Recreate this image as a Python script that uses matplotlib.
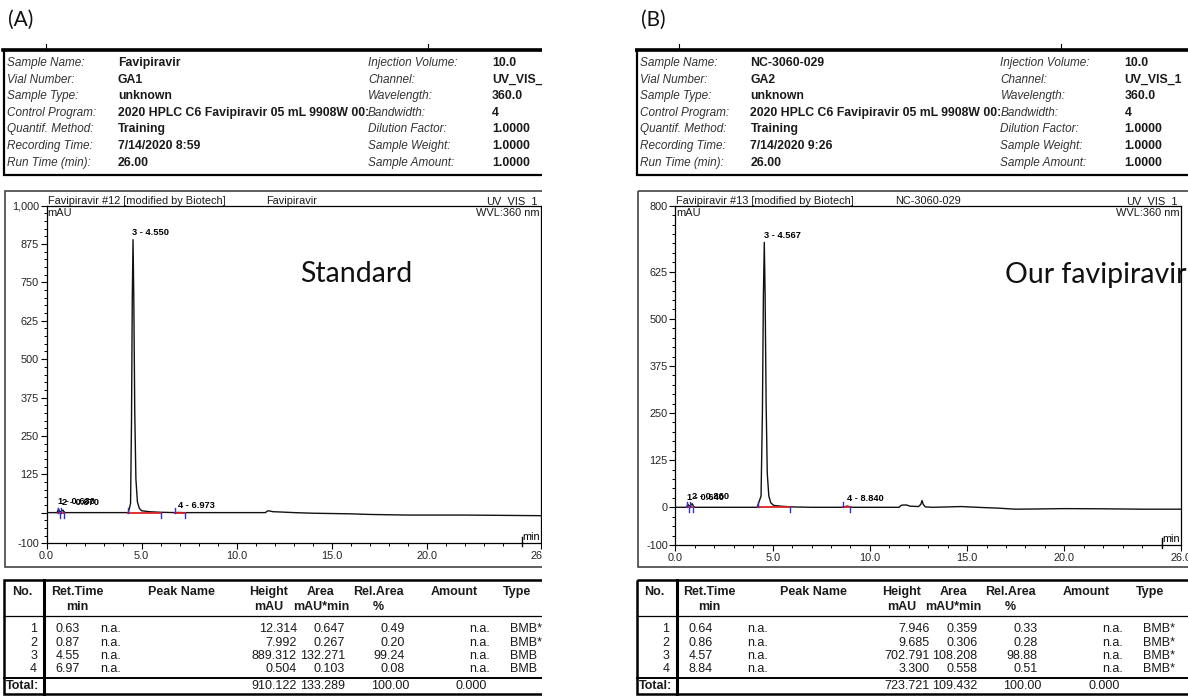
"""
HPLC report comparison — favipiravir standard (A) vs our favipiravir (B)
"""

import matplotlib
matplotlib.use("Agg")
import matplotlib.pyplot as plt
from matplotlib.patches import Rectangle
from matplotlib.ticker import MultipleLocator

W, H = 1188, 696
REPORT_FONT = "Liberation Sans"
NOTE_FONT = "Lato"

# ── Data ───────────────────────────────────────────────────────────────────
PANEL_TAGS = ["(A)", "(B)"]
SAMPLE_NOTES = ["Standard", "Our favipiravir"]

INFO_LABELS = ["Sample Name:", "Vial Number:", "Sample Type:", "Control Program:",
               "Quantif. Method:", "Recording Time:", "Run Time (min):"]
INSTR_LABELS = ["Injection Volume:", "Channel:", "Wavelength:", "Bandwidth:",
                "Dilution Factor:", "Sample Weight:", "Sample Amount:"]
INSTR_VALUES = ["10.0", "UV_VIS_1", "360.0", "4", "1.0000", "1.0000", "1.0000"]
STD_INFO = ["Favipiravir", "GA1", "unknown", "2020 HPLC C6 Favipiravir 05 mL 9908W 00:",
            "Training", "7/14/2020 8:59", "26.00"]
OUR_INFO = ["NC-3060-029", "GA2", "unknown", "2020 HPLC C6 Favipiravir 05 mL 9908W 00:",
            "Training", "7/14/2020 9:26", "26.00"]

STD_TITLE = ["Favipiravir #12 [modified by Biotech]", "Favipiravir"]
OUR_TITLE = ["Favipiravir #13 [modified by Biotech]", "NC-3060-029"]

# chromatogram traces (min, mAU)
STD_TIME = [0.0, 0.55, 0.60, 0.63, 0.68, 0.76, 0.87, 0.93, 1.0, 3.0, 4.30, 4.42, 4.47,
            4.51, 4.55, 4.59, 4.64, 4.70, 4.78, 4.88, 5.0, 5.4, 6.0, 6.8, 6.97, 7.2,
            8.0, 10.0, 11.5, 11.65, 11.75, 11.9, 12.3, 13.0, 14.0, 15.0, 16.0, 17.0,
            18.0, 19.0, 20.0, 22.0, 24.0, 26.0]
STD_SIGNAL = [0, 0, 6, 12.3, 4, 3, 8, 2, 0, 0, 0, 30, 300,
              700, 889.3, 700, 330, 110, 35, 14, 6, 3, 1, 0, 0.5, 0,
              0, 0, 0, 6, 5, 3, 2, 0, -2, -3, -4, -6,
              -7, -8, -8, -8, -9, -10]
OUR_TIME = [0.0, 0.55, 0.60, 0.64, 0.70, 0.78, 0.86, 0.92, 1.0, 3.0, 4.20, 4.40, 4.47,
            4.52, 4.567, 4.61, 4.66, 4.72, 4.80, 4.90, 5.05, 5.4, 6.0, 7.0, 8.6, 8.75,
            8.84, 8.95, 9.1, 10.0, 11.5, 11.6, 11.7, 11.9, 12.05, 12.5, 12.62, 12.68,
            12.74, 12.85, 13.2, 14.0, 14.7, 15.5, 16.5, 17.5, 18.5, 20.0, 22.0, 24.0, 26.0]
OUR_SIGNAL = [0, 0, 4, 7.9, 3, 5, 9.7, 3, 0, 0, 0, 30, 250,
              560, 702.8, 560, 280, 90, 30, 12, 5, 3, 1, 0, 0, 2,
              3.3, 1.5, 0, 0, 0, 5, 6, 6, 3, 2, 8, 18,
              8, 1, 0, 1, 2, 0, -2, -5, -4.5, -3.5, -4, -5, -5]

STD_YLIM = (-100, 1000)
STD_YTICKS = [-100, 0, 125, 250, 375, 500, 625, 750, 875, 1000]
STD_YLABELS = ["-100", "", "125", "250", "375", "500", "625", "750", "875", "1,000"]
OUR_YLIM = (-100, 800)
OUR_YTICKS = [-100, 0, 125, 250, 375, 500, 625, 800]
OUR_YLABELS = ["-100", "0", "125", "250", "375", "500", "625", "800"]
XTICKS = [0, 5, 10, 15, 20, 26]
XLABELS = ["0.0", "5.0", "10.0", "15.0", "20.0", "26.0"]

# peak tables
TABLE_HEAD = ["No.", "Ret.Time", "Peak Name", "Height", "Area", "Rel.Area", "Amount", "Type"]
TABLE_UNITS = ["", "min", "", "mAU", "mAU*min", "%", "", ""]
PEAK_NO = [1, 2, 3, 4]

STD_RT = [0.630, 0.870, 4.550, 6.973]
STD_HEIGHT = [12.314, 7.992, 889.312, 0.504]
STD_AREA = [0.647, 0.267, 132.271, 0.103]
STD_REL = [0.49, 0.20, 99.24, 0.08]
STD_TYPE = ["BMB*", "BMB*", "BMB", "BMB"]
STD_TOTAL = ["910.122", "133.289", "100.00", "0.000"]
STD_START = [0.60, 0.74, 4.30, 6.75]
STD_END = [0.72, 0.90, 6.00, 7.28]

OUR_RT = [0.640, 0.860, 4.567, 8.840]
OUR_HEIGHT = [7.946, 9.685, 702.791, 3.300]
OUR_AREA = [0.359, 0.306, 108.208, 0.558]
OUR_REL = [0.33, 0.28, 98.88, 0.51]
OUR_TYPE = ["BMB*", "BMB*", "BMB*", "BMB*"]
OUR_TOTAL = ["723.721", "109.432", "100.00", "0.000"]
OUR_START = [0.58, 0.76, 4.25, 8.62]
OUR_END = [0.72, 0.92, 5.90, 8.98]


# ══════════════════════════════════════════════════════════════════════════════
# helpers
# ══════════════════════════════════════════════════════════════════════════════

def px_axes(fig, x0, y0, x1, y1):
    return fig.add_axes([x0 / W, 1 - y1 / H, (x1 - x0) / W, (y1 - y0) / H])


def txt(ax, x, y, s, size=8.5, **kw):
    kw.setdefault("va", "center")
    kw.setdefault("family", REPORT_FONT)
    kw.setdefault("color", "#1a1a1a")
    ax.text(x, y, s, fontsize=size, **kw)


def draw_header(bg, x0, info):
    bg.add_patch(Rectangle((x0, 50), 575, 125, fill=False, lw=1.6, ec="black"))
    bg.plot([x0 - 1, x0 + 575], [49.5, 49.5], color="black", lw=2.6)
    for tx in (x0 + 42, x0 + 424):
        bg.plot([tx, tx], [44, 49], color="black", lw=0.8)
    for i in range(len(INFO_LABELS)):
        y = 63 + 16.6 * i
        txt(bg, x0 + 3, y, INFO_LABELS[i], style="italic", color="#333333")
        txt(bg, x0 + 114, y, info[i], size=8.8, weight="bold")
        txt(bg, x0 + 364, y, INSTR_LABELS[i], style="italic", color="#333333")
        txt(bg, x0 + 488, y, INSTR_VALUES[i], size=8.8, weight="bold")


def draw_chromatogram(fig, bg, box, frame_x0, time, signal, ylim, yticks, ylabels,
                      rts, heights, starts, ends, titles):
    x0, y0, x1, y1 = box
    bg.add_patch(Rectangle((frame_x0, 191), 575, 376, fill=False, lw=1.2, ec="#444444"))

    ax = px_axes(fig, x0, y0, x1, y1)
    ax.patch.set_alpha(0)
    ax.plot(time, signal, color="#111111", lw=1.0, zorder=3)
    ax.set_xlim(0, 26)
    ax.set_ylim(*ylim)

    ax.set_xticks(XTICKS)
    ax.set_xticklabels(XLABELS)
    ax.set_yticks(yticks)
    ax.set_yticklabels(ylabels)
    ax.xaxis.set_minor_locator(MultipleLocator(1))
    ax.yaxis.set_minor_locator(MultipleLocator(25))
    ax.tick_params(which="major", direction="out", length=4, width=0.8, labelsize=7.8, pad=1.5)
    ax.tick_params(which="minor", direction="out", length=2.5, width=0.7)
    for lab in ax.get_xticklabels() + ax.get_yticklabels():
        lab.set_family(REPORT_FONT)
        lab.set_color("#222222")
    for sp in ax.spines.values():
        sp.set_linewidth(0.9)

    # end-of-axis marker and unit
    ax.axvline(25, ymin=-0.009, ymax=0.02, color="black", lw=1, clip_on=False)
    ax.annotate("min", xy=(26, ylim[0]), xytext=(-1, 1), textcoords="offset points",
                ha="right", va="bottom", fontsize=7.8, family=REPORT_FONT)

    # integration marks
    dy = 5 * (ylim[1] - ylim[0]) / (y1 - y0)
    for s, e in zip(starts, ends):
        ax.plot([s, e], [0, 0], color="#e02020", lw=1.3, zorder=4)
        ax.plot([s, s], [0, dy], color="#3030d0", lw=1.0, zorder=5)
        ax.plot([e, e], [0, -dy], color="#3030d0", lw=1.0, zorder=5)
    for n, rt, h in zip(PEAK_NO, rts, heights):
        ax.annotate(f"{n} - {rt:.3f}", xy=(rt, h), xytext=(-0.5, 2), textcoords="offset points",
                    ha="left", va="bottom", fontsize=6.7, weight="bold", family=REPORT_FONT)

    # captions around the plot
    txt(bg, x0 + 1, y0 - 1.5, titles[0], size=7.9, va="baseline")
    txt(bg, x0 + 220, y0 - 1.5, titles[1], size=7.9, va="baseline")
    txt(bg, x1 - 3, y0 - 1.5, "UV_VIS_1", size=7.9, va="baseline", ha="right")
    txt(bg, x0 + 1, y0 + 7, "mAU", size=7.9)
    txt(bg, x1 - 1, y0 + 7, "WVL:360 nm", size=7.9, ha="right")
    return ax


def draw_table(bg, x0, na_dx, rt, height, area, rel, types, total):
    top, bottom = 580, 694
    bg.add_patch(Rectangle((x0, top), 575, bottom - top, fill=False, lw=1.8, ec="black"))
    bg.plot([x0 + 40, x0 + 40], [top, bottom], color="black", lw=2.2)
    bg.plot([x0, x0 + 575], [616, 616], color="black", lw=0.9)
    bg.plot([x0, x0 + 575], [677.5, 677.5], color="black", lw=1.4)

    head_x = [18, 73, 177, 265, 317, 374, 450, 513]
    for hx, h, u in zip(head_x, TABLE_HEAD, TABLE_UNITS):
        txt(bg, x0 + hx, 592, h, size=9, weight="bold", ha="center")
        if u:
            txt(bg, x0 + hx, 607, u, size=9, weight="bold", ha="center")

    for i, n in enumerate(PEAK_NO):
        y = 629 + 13.5 * i
        txt(bg, x0 + 33, y, str(n), size=9, ha="right")
        txt(bg, x0 + 76, y, f"{rt[i]:.2f}", size=9, ha="right")
        txt(bg, x0 + na_dx, y, "n.a.", size=9)
        txt(bg, x0 + 293, y, f"{height[i]:.3f}", size=9, ha="right")
        txt(bg, x0 + 341, y, f"{area[i]:.3f}", size=9, ha="right")
        txt(bg, x0 + 401, y, f"{rel[i]:.2f}", size=9, ha="right")
        txt(bg, x0 + 486, y, "n.a.", size=9, ha="right")
        txt(bg, x0 + 506, y, types[i], size=9)

    y = 686
    txt(bg, x0 + 2, y, "Total:", size=9, weight="bold")
    for rx, v in zip([293, 341, 405, 483], total):
        txt(bg, x0 + rx, y, v, size=9, ha="right")


# ══════════════════════════════════════════════════════════════════════════════
# figure
# ══════════════════════════════════════════════════════════════════════════════

def main():
    fig = plt.figure(figsize=(W / 100, H / 100), dpi=100)
    bg = fig.add_axes([0, 0, 1, 1])
    bg.set_xlim(0, W)
    bg.set_ylim(H, 0)
    bg.axis("off")

    panels = [
        dict(x0=4, box=(46.5, 205.7, 541, 543.3), info=STD_INFO, title=STD_TITLE,
             time=STD_TIME, signal=STD_SIGNAL, ylim=STD_YLIM, yticks=STD_YTICKS, ylabels=STD_YLABELS,
             rt=STD_RT, height=STD_HEIGHT, area=STD_AREA, rel=STD_REL, types=STD_TYPE,
             total=STD_TOTAL, start=STD_START, end=STD_END, note_xy=(300, 274), na_dx=96),
        dict(x0=636.5, box=(675.5, 205.7, 1181, 545), info=OUR_INFO, title=OUR_TITLE,
             time=OUR_TIME, signal=OUR_SIGNAL, ylim=OUR_YLIM, yticks=OUR_YTICKS, ylabels=OUR_YLABELS,
             rt=OUR_RT, height=OUR_HEIGHT, area=OUR_AREA, rel=OUR_REL, types=OUR_TYPE,
             total=OUR_TOTAL, start=OUR_START, end=OUR_END, note_xy=(1005, 275), na_dx=111),
    ]

    for tag, note, p in zip(PANEL_TAGS, SAMPLE_NOTES, panels):
        bg.text(p["x0"] + 4, 20, tag, fontsize=15, family=NOTE_FONT, va="center", color="#111111")
        draw_header(bg, p["x0"], p["info"])
        draw_chromatogram(fig, bg, p["box"], p["x0"] + 1, p["time"], p["signal"], p["ylim"],
                          p["yticks"], p["ylabels"], p["rt"], p["height"], p["start"], p["end"],
                          p["title"])
        bg.text(*p["note_xy"], note, fontsize=20.5, family=NOTE_FONT, va="center", color="#111111")
        draw_table(bg, p["x0"], p["na_dx"], p["rt"], p["height"], p["area"], p["rel"],
                   p["types"], p["total"])

    # the left report is cropped at its right edge
    gap = px_axes(fig, 541.5, 0, 635, H)
    gap.set_facecolor("white")
    gap.set_xticks([])
    gap.set_yticks([])
    for sp in gap.spines.values():
        sp.set_visible(False)

    fig.savefig("out.png", dpi=100)
    plt.close(fig)


if __name__ == "__main__":
    main()
